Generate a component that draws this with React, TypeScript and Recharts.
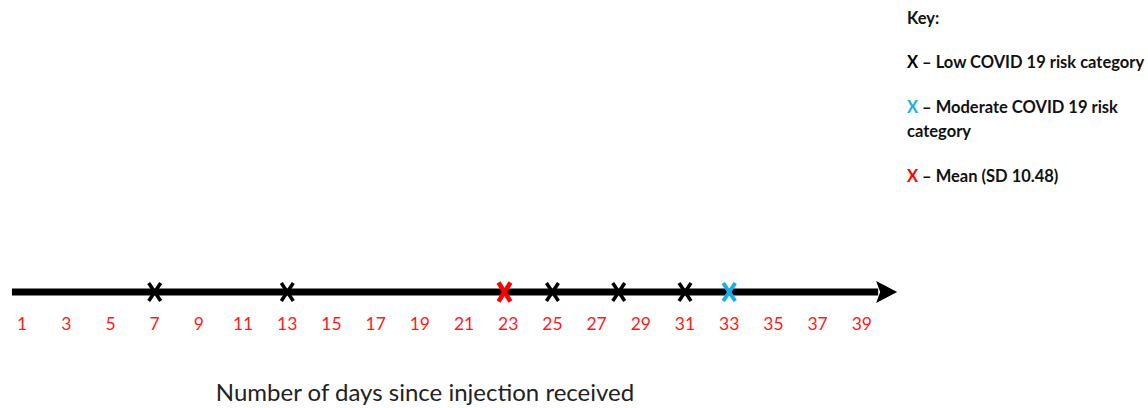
import { ScatterChart, Scatter, XAxis, YAxis, ReferenceLine } from 'recharts';

const tickDays = [1, 3, 5, 7, 9, 11, 13, 15, 17, 19, 21, 23, 25, 27, 29, 31, 33, 35, 37, 39];
const lowRiskDays = [7, 13, 25, 28, 31];
const moderateRiskDays = [33];
const meanDays = [22.83];
const axisStart = 0.54;
const axisEnd = 40.6;

const keyItems = [
  { mark: 'X', color: '#000000', text: ' – Low COVID 19 risk category' },
  { mark: 'X', color: '#1aaee8', text: ' – Moderate COVID 19 risk category' },
  { mark: 'X', color: '#ff0000', text: ' – Mean (SD 10.48)' },
];

const toPoints = (days: number[]) => days.map((d) => ({ day: d, y: 0 }));

function makeCross(color: string, w: number, h: number, sw: number) {
  return (props: any) => {
    const { cx, cy } = props;
    return (
      <g>
        <line x1={cx - w / 2} y1={cy - h / 2} x2={cx + w / 2} y2={cy + h / 2} stroke={color} strokeWidth={sw} />
        <line x1={cx + w / 2} y1={cy - h / 2} x2={cx - w / 2} y2={cy + h / 2} stroke={color} strokeWidth={sw} />
      </g>
    );
  };
}

function ArrowLine(props: any) {
  const { x1, y1, x2 } = props;
  const head = 21;
  return (
    <g>
      <line x1={x1} y1={y1} x2={x2 - head + 2} y2={y1} stroke="#000" strokeWidth={7} />
      <polygon points={`${x2},${y1} ${x2 - head},${y1 - 11} ${x2 - head + 4},${y1} ${x2 - head},${y1 + 11}`} fill="#000" />
    </g>
  );
}

function DayTick(props: any) {
  const { x, payload } = props;
  return (
    <text x={x} y={330} textAnchor="middle" fill="#ff1a1a" fontSize={17.5} fontFamily="Lato, sans-serif">
      {payload.value}
    </text>
  );
}

export default function App() {
  return (
    <div style={{ position: 'absolute', left: 0, top: 0, width: 1148, height: 408, background: '#fff' }}>
      <ScatterChart width={1148} height={408} margin={{ top: 272, right: 242, bottom: 66, left: 0 }}>
        <XAxis
          dataKey="day"
          type="number"
          domain={[0, 41]}
          ticks={tickDays}
          tick={<DayTick />}
          tickLine={false}
          axisLine={false}
          height={30}
          interval={0}
        />
        <YAxis dataKey="y" type="number" domain={[-1, 1]} hide width={0} />
        <ReferenceLine
          segment={[{ x: axisStart, y: 0 }, { x: axisEnd, y: 0 }]}
          shape={<ArrowLine />}
          ifOverflow="visible"
        />
        <Scatter data={toPoints(lowRiskDays)} shape={makeCross('#000', 12, 18, 3.5)} isAnimationActive={false} />
        <Scatter data={toPoints(meanDays)} shape={makeCross('#ff0000', 12, 19, 4.5)} isAnimationActive={false} />
        <Scatter data={toPoints(moderateRiskDays)} shape={makeCross('#1aaee8', 12, 18, 4)} isAnimationActive={false} />
      </ScatterChart>
      <div
        style={{
          position: 'absolute',
          left: 0,
          width: 850,
          top: 377,
          textAlign: 'center',
          fontFamily: 'Lato, sans-serif',
          fontSize: 24,
          color: '#222',
        }}
      >
        Number of days since injection received
      </div>
      <div
        style={{
          position: 'absolute',
          left: 907,
          top: 6,
          width: 240,
          fontFamily: 'Lato, sans-serif',
          fontWeight: 'bold',
          fontSize: 16.5,
          color: '#111',
          lineHeight: '24px',
        }}
      >
        <div style={{ marginBottom: 20 }}>Key:</div>
        {keyItems.map((k) => (
          <div key={k.text} style={{ marginBottom: 21 }}>
            <span style={{ color: k.color }}>{k.mark}</span>
            {k.text}
          </div>
        ))}
      </div>
    </div>
  );
}
